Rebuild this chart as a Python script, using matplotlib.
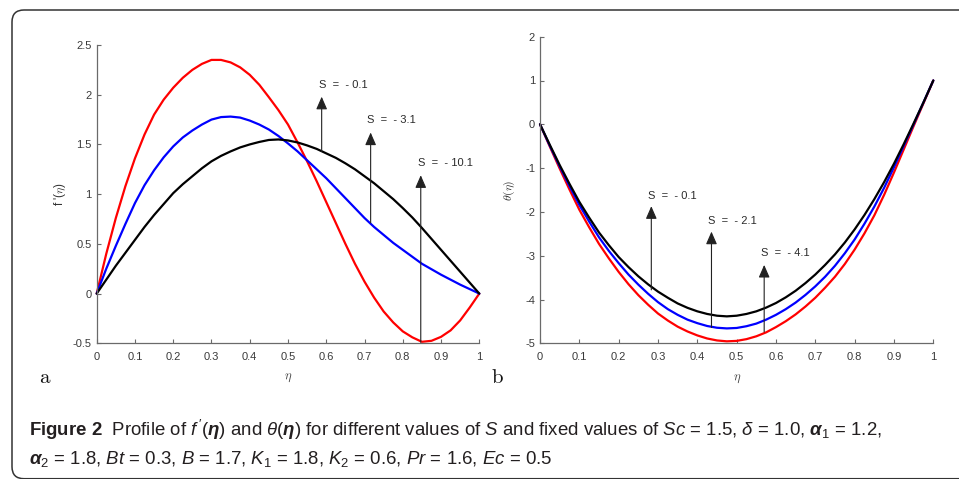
import matplotlib
matplotlib.use('Agg')
import matplotlib.pyplot as plt
from matplotlib import font_manager
from matplotlib.patches import FancyBboxPatch
from matplotlib.transforms import IdentityTransform

# ---------------- data ----------------
eta = [0.000, 0.025, 0.050, 0.075, 0.100, 0.125, 0.150, 0.175, 0.200, 0.225,
       0.250, 0.275, 0.300, 0.325, 0.350, 0.375, 0.400, 0.425, 0.450, 0.475,
       0.500, 0.525, 0.550, 0.575, 0.600, 0.625, 0.650, 0.675, 0.700, 0.725,
       0.750, 0.775, 0.800, 0.825, 0.850, 0.875, 0.900, 0.925, 0.950, 0.975, 1.000]

# panel a : f'(eta)
fp_black = [0, 0.14, 0.28, 0.41, 0.54, 0.67, 0.79, 0.90, 1.01, 1.10,
            1.18, 1.26, 1.33, 1.385, 1.43, 1.47, 1.50, 1.525, 1.545, 1.55,
            1.54, 1.52, 1.49, 1.455, 1.41, 1.365, 1.31, 1.25, 1.18, 1.11,
            1.03, 0.95, 0.86, 0.765, 0.66, 0.55, 0.44, 0.33, 0.22, 0.11, 0]
fp_blue = [0, 0.25, 0.48, 0.70, 0.91, 1.09, 1.24, 1.37, 1.48, 1.57,
           1.64, 1.70, 1.75, 1.775, 1.78, 1.77, 1.74, 1.70, 1.65, 1.585,
           1.51, 1.43, 1.34, 1.25, 1.16, 1.06, 0.96, 0.86, 0.76, 0.67,
           0.59, 0.51, 0.44, 0.37, 0.30, 0.245, 0.19, 0.14, 0.09, 0.045, 0]
fp_red = [0, 0.40, 0.76, 1.08, 1.36, 1.60, 1.80, 1.95, 2.07, 2.17,
          2.25, 2.31, 2.35, 2.35, 2.325, 2.275, 2.20, 2.10, 1.975, 1.845,
          1.70, 1.52, 1.33, 1.13, 0.92, 0.71, 0.50, 0.30, 0.12, -0.04,
          -0.18, -0.29, -0.38, -0.44, -0.485, -0.475, -0.435, -0.37, -0.27, -0.14, 0]

# panel b : theta(eta)
th_black = [0, -0.47, -0.93, -1.36, -1.77, -2.13, -2.47, -2.76, -3.03, -3.26,
            -3.47, -3.655, -3.82, -3.96, -4.09, -4.19, -4.27, -4.33, -4.37, -4.385,
            -4.37, -4.33, -4.27, -4.185, -4.08, -3.95, -3.80, -3.625, -3.43, -3.21,
            -2.97, -2.70, -2.40, -2.07, -1.71, -1.32, -0.90, -0.45, 0.02, 0.50, 1.0]
th_blue = [0, -0.49, -0.96, -1.41, -1.84, -2.22, -2.58, -2.89, -3.17, -3.43,
           -3.66, -3.87, -4.06, -4.22, -4.35, -4.46, -4.54, -4.605, -4.645, -4.66,
           -4.65, -4.61, -4.55, -4.46, -4.35, -4.22, -4.07, -3.895, -3.70, -3.48,
           -3.23, -2.945, -2.63, -2.27, -1.88, -1.45, -0.98, -0.49, 0.0, 0.50, 1.0]
th_red = [0, -0.51, -1.01, -1.49, -1.95, -2.35, -2.73, -3.06, -3.37, -3.65,
          -3.90, -4.12, -4.32, -4.48, -4.62, -4.73, -4.82, -4.89, -4.935, -4.955,
          -4.945, -4.905, -4.84, -4.75, -4.63, -4.495, -4.34, -4.16, -3.96, -3.73,
          -3.48, -3.19, -2.86, -2.49, -2.08, -1.61, -1.10, -0.57, -0.04, 0.48, 1.0]

xticks = [0, 0.1, 0.2, 0.3, 0.4, 0.5, 0.6, 0.7, 0.8, 0.9, 1]
xtick_labels = ['0', '0.1', '0.2', '0.3', '0.4', '0.5', '0.6', '0.7', '0.8', '0.9', '1']
yticks_a = [-0.5, 0, 0.5, 1, 1.5, 2, 2.5]
ytick_labels_a = ['-0.5', '0', '0.5', '1', '1.5', '2', '2.5']
yticks_b = [-5, -4, -3, -2, -1, 0, 1, 2]
ytick_labels_b = ['-5', '-4', '-3', '-2', '-1', '0', '1', '2']

# annotation arrows (x, base, tip) and labels
arr_a_x = [0.588, 0.716, 0.847]
arr_a_base = [1.43, 0.71, -0.49]
arr_a_tip = [1.98, 1.62, 1.19]
lab_a_x = [0.580, 0.707, 0.839]
lab_a_y = [2.10, 1.745, 1.31]
lab_a_txt = ['S  =  - 0.1', 'S  =  - 3.1', 'S  =  - 10.1']

arr_b_x = [0.283, 0.436, 0.570]
arr_b_base = [-3.78, -4.64, -4.74]
arr_b_tip = [-1.87, -2.45, -3.21]
lab_b_x = [0.275, 0.427, 0.562]
lab_b_y = [-1.64, -2.21, -2.93]
lab_b_txt = ['S  =  - 0.1', 'S  =  - 2.1', 'S  =  - 4.1']

caption1 = (r"$\mathbf{Figure\ 2}$  Profile of $f\,'(\boldsymbol{\eta})$ and $\theta(\boldsymbol{\eta})$ "
            r"for different values of $S$ and fixed values of $Sc$ = 1.5, $\delta$ = 1.0, "
            r"$\boldsymbol{\alpha}_1$ = 1.2,")
caption2 = (r"$\boldsymbol{\alpha}_2$ = 1.8, $Bt$ = 0.3, $B$ = 1.7, $K_1$ = 1.8, $K_2$ = 0.6, "
            r"$Pr$ = 1.6, $Ec$ = 0.5")

# ---------------- style ----------------
names = {f.name for f in font_manager.fontManager.ttflist}
cap_font = 'Liberation Sans Narrow' if 'Liberation Sans Narrow' in names else 'Liberation Sans'

plt.rcParams.update({
    'font.family': ['Liberation Sans', 'DejaVu Sans'],
    'axes.unicode_minus': False,
    'mathtext.fontset': 'custom',
    'mathtext.rm': cap_font,
    'mathtext.it': cap_font + ':italic',
    'mathtext.bf': cap_font + ':bold',
    'mathtext.bfit': cap_font + ':italic:bold',
    'mathtext.sf': cap_font,
})

W, H = 959, 479
fig = plt.figure(figsize=(W / 100, H / 100), dpi=100)

axA = fig.add_axes([96.7 / W, 1 - 343.3 / H, 382.6 / W, 298.3 / H])
axB = fig.add_axes([540.0 / W, 1 - 343.3 / H, 393.3 / W, 306.6 / H])

spine_c = '#6a6a6a'
tick_c = '#3a3a3a'
for ax in (axA, axB):
    for s in ('top', 'right'):
        ax.spines[s].set_visible(False)
    for s in ('left', 'bottom'):
        ax.spines[s].set_color(spine_c)
        ax.spines[s].set_linewidth(0.9)
    ax.tick_params(direction='in', length=3, width=0.8, color=spine_c,
                   labelcolor=tick_c, labelsize=8)
    ax.tick_params(axis='x', pad=6.5)
    ax.tick_params(axis='y', pad=3.5)
    ax.set_xlim(0, 1)
    ax.set_xticks(xticks)
    ax.set_xticklabels(xtick_labels)

axA.set_ylim(-0.5, 2.5)
axA.set_yticks(yticks_a)
axA.set_yticklabels(ytick_labels_a)
axB.set_ylim(-5, 2)
axB.set_yticks(yticks_b)
axB.set_yticklabels(ytick_labels_b)

lw = 1.6
for ax, series in ((axA, (fp_red, fp_blue, fp_black)), (axB, (th_red, th_blue, th_black))):
    for ys, c in zip(series, ('#ff0000', '#0000ff', '#000000')):
        ax.plot(eta, ys, color=c, lw=lw, clip_on=False,
                solid_capstyle='round', solid_joinstyle='round')

arrow_props = dict(arrowstyle='-|>,head_length=0.55,head_width=0.24', color='#222222',
                   lw=0.8, shrinkA=0, shrinkB=0, mutation_scale=14)
for ax, xs, bs, ts, lx, ly, lt in ((axA, arr_a_x, arr_a_base, arr_a_tip, lab_a_x, lab_a_y, lab_a_txt),
                                   (axB, arr_b_x, arr_b_base, arr_b_tip, lab_b_x, lab_b_y, lab_b_txt)):
    for x, b, t in zip(xs, bs, ts):
        ax.annotate('', xy=(x, t), xytext=(x, b), arrowprops=arrow_props, annotation_clip=False)
    for x, y, s in zip(lx, ly, lt):
        ax.text(x, y, s, ha='left', va='center', fontsize=8, color='#2a2a2a')

# axis labels
axA.set_xlabel(r'$\eta$', fontsize=9, color='#444444', math_fontfamily='cm')
axB.set_xlabel(r'$\eta$', fontsize=9, color='#444444', math_fontfamily='cm')
axA.xaxis.set_label_coords(0.5, -0.094)
axB.xaxis.set_label_coords(0.5, -0.096)
axA.set_ylabel(r"f '($\eta$)", fontsize=8.5, color='#333333', math_fontfamily='cm')
axB.set_ylabel(r"$\theta(\eta)$", fontsize=8.5, color='#333333', math_fontfamily='cm')
axA.yaxis.set_label_coords(-0.075, 0.5)
axB.yaxis.set_label_coords(-0.058, 0.5)

# panel letters
fig.text(39 / W, 1 - 383 / H, r'$\mathrm{a}$', fontsize=15, math_fontfamily='cm',
         ha='left', va='baseline', color='#111111')
fig.text(491 / W, 1 - 383 / H, r'$\mathrm{b}$', fontsize=15, math_fontfamily='cm',
         ha='left', va='baseline', color='#111111')

# caption
fig.text(29 / W, 1 - 436 / H, caption1, fontsize=13.4, family=cap_font,
         ha='left', va='baseline', color='#231f20')
fig.text(29 / W, 1 - 464 / H, caption2, fontsize=13.4, family=cap_font,
         ha='left', va='baseline', color='#231f20')

# rounded frame
frame = FancyBboxPatch((12, 0.3), 1200, (H - 10) - 0.3,
                       boxstyle='round,pad=0,rounding_size=12',
                       transform=IdentityTransform(), fill=False,
                       edgecolor='#333333', linewidth=1.1)
fig.patches.append(frame)

fig.savefig('out.png', dpi=100)
